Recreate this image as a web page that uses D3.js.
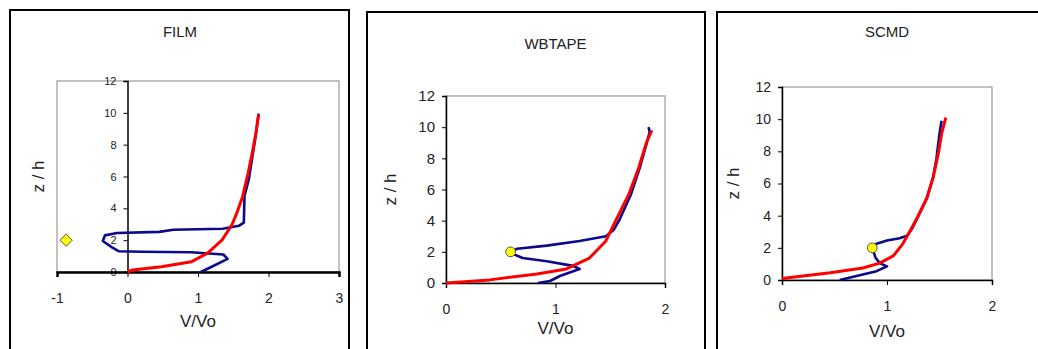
<!DOCTYPE html>
<html>
<head>
<meta charset="utf-8">
<script src="https://cdn.jsdelivr.net/npm/d3@7"></script>
<style>
  body { margin: 0; background: #fff; }
  svg { display: block; font-family: 'Liberation Sans', Arial, sans-serif; }
  .axis text { fill: #222; }
</style>
</head>
<body>
<div id="plot"></div>
<script>
// velocity profiles, [V/Vo, z/h]
var filmMeasured = [[1.04,0],[1.18,0.3],[1.42,0.82],[1.36,1.1],[0.9,1.24],[0.2,1.27],[-0.12,1.3],[-0.22,1.55],[-0.35,1.95],[-0.32,2.3],[-0.15,2.45],[0.45,2.52],[0.65,2.65],[1.35,2.72],[1.58,2.9],[1.65,3.1],[1.66,4.8],[1.72,5.8],[1.77,7.2],[1.82,8.6],[1.86,9.95]]
var filmPredicted = [[0,0],[0.07,0.13],[0.48,0.33],[0.91,0.65],[1.14,1.2],[1.34,2.0],[1.48,2.95],[1.55,3.7],[1.63,4.7],[1.71,6.2],[1.77,7.5],[1.82,8.7],[1.86,9.9]]
var filmSource = [[-0.87,2.0]]

var wbMeasured = [[0.84,0],[0.95,0.13],[1.04,0.45],[1.22,0.9],[1.16,1.1],[0.92,1.4],[0.7,1.6],[0.61,1.87],[0.59,2.0],[0.65,2.2],[0.92,2.4],[1.22,2.7],[1.46,3.0],[1.53,3.4],[1.58,4.0],[1.69,5.7],[1.77,7.4],[1.83,8.9],[1.86,9.7],[1.85,10]]
var wbPredicted = [[0,0],[0.4,0.2],[0.83,0.58],[1.1,0.9],[1.31,1.6],[1.46,2.7],[1.55,4.0],[1.67,5.7],[1.76,7.4],[1.83,9.0],[1.88,9.8]]
var wbSource = [[0.59,2.0]]

var scmdMeasured = [[0.55,0],[0.71,0.25],[0.9,0.55],[1.0,0.85],[0.93,1.05],[0.89,1.4],[0.86,2.0],[0.9,2.25],[1.0,2.45],[1.12,2.6],[1.19,2.75],[1.24,3.2],[1.3,4.0],[1.38,5.1],[1.44,6.4],[1.47,7.5],[1.5,9.1],[1.52,9.9]]
var scmdPredicted = [[0,0.1],[0.46,0.45],[0.77,0.75],[0.93,1.05],[1.06,1.5],[1.15,2.25],[1.22,3.05],[1.29,3.9],[1.38,5.1],[1.44,6.4],[1.49,7.9],[1.52,9.1],[1.56,10.1]]
var scmdSource = [[0.86,2.0]]

var titles = ['FILM', 'WBTAPE', 'SCMD']
var xTicksFilm = [-1, 0, 1, 2, 3]
var xTicksOther = [0, 1, 2]
var yTicks = [0, 2, 4, 6, 8, 10, 12]

var panels = [
  { title: titles[0], frame: [10, 10, 339, 360], box: [57, 81, 339, 272], xDomain: [-1, 3], xTicks: xTicksFilm,
    measured: filmMeasured, predicted: filmPredicted, source: filmSource, diamond: true, yLabelSize: 11, titleY: 33, xTitleY: 323, yTitleX: 40 },
  { title: titles[1], frame: [367, 12, 338, 360], box: [446, 96, 665, 283], xDomain: [0, 2], xTicks: xTicksOther,
    measured: wbMeasured, predicted: wbPredicted, source: wbSource, diamond: false, yLabelSize: 15, titleY: 45, xTitleY: 330, yTitleX: 392 },
  { title: titles[2], frame: [717, 12, 340, 360], box: [782, 87, 992, 280], xDomain: [0, 2], xTicks: xTicksOther,
    measured: scmdMeasured, predicted: scmdPredicted, source: scmdSource, diamond: false, yLabelSize: 14, titleY: 33, xTitleY: 333, yTitleX: 735 }
]

var svg = d3.select('#plot').append('svg').attr('width', 1038).attr('height', 349)

panels.forEach(function(p) {
  var left = p.box[0], top = p.box[1], right = p.box[2], bottom = p.box[3]
  var xScale = d3.scaleLinear().domain(p.xDomain).range([left, right])
  var yScale = d3.scaleLinear().domain([0, 12]).range([bottom, top])
  var g = svg.append('g')

  // panel frame
  g.append('rect')
    .attr('x', p.frame[0]).attr('y', p.frame[1])
    .attr('width', p.frame[2]).attr('height', p.frame[3])
    .style('fill', '#fff').style('stroke', '#000').style('stroke-width', 2)

  // plot box
  g.append('rect')
    .attr('x', left).attr('y', top)
    .attr('width', right - left).attr('height', bottom - top)
    .style('fill', 'none').style('stroke', '#999').style('stroke-width', 1.2)

  var x0 = xScale(Math.max(0, p.xDomain[0]))

  var yAxis = g.append('g')
    .attr('class', 'axis')
    .attr('transform', 'translate(' + x0 + ',0)')
    .call(d3.axisLeft(yScale).tickValues(yTicks).tickSizeOuter(0).tickSize(4).tickPadding(7))
  yAxis.selectAll('text').style('font-size', p.yLabelSize + 'px')

  var xAxis = g.append('g')
    .attr('class', 'axis')
    .attr('transform', 'translate(0,' + yScale(0) + ')')
    .call(d3.axisBottom(xScale).tickValues(p.xTicks).tickFormat(function(d) { return String(d) }).tickSizeOuter(0).tickSize(5).tickPadding(16))
  xAxis.selectAll('text').style('font-size', '14px')
  xAxis.select('.domain').style('stroke-width', p.diamond ? 2.5 : 1.5)
  yAxis.select('.domain').style('stroke-width', 1.5)

  var line = d3.line()
    .x(function(d) { return xScale(d[0]) })
    .y(function(d) { return yScale(d[1]) })

  g.append('path').datum(p.measured).attr('d', line)
    .style('fill', 'none').style('stroke', '#0a0a8a').style('stroke-width', 2.6)
    .style('stroke-linejoin', 'round')

  g.append('path').datum(p.predicted).attr('d', line)
    .style('fill', 'none').style('stroke', '#ff0000').style('stroke-width', 3)
    .style('stroke-linejoin', 'round')

  g.selectAll('.src').data(p.source).enter().append('path')
    .attr('transform', function(d) { return 'translate(' + xScale(d[0]) + ',' + yScale(d[1]) + ')' })
    .attr('d', d3.symbol().type(p.diamond ? d3.symbolDiamond2 : d3.symbolCircle).size(p.diamond ? 95 : 75))
    .style('fill', '#ffff00').style('stroke', '#555').style('stroke-width', 1)

  // titles
  var cx = (left + right) / 2
  g.append('text').attr('x', p.diamond ? 180 : cx).attr('y', p.titleY)
    .attr('text-anchor', 'middle').attr('dominant-baseline', 'middle')
    .style('font-size', '15px').style('fill', '#222').text(p.title)
  g.append('text').attr('x', p.diamond ? 198 : cx).attr('y', p.xTitleY)
    .attr('text-anchor', 'middle').attr('dominant-baseline', 'middle')
    .style('font-size', '17px').style('fill', '#222').text('V/Vo')
  g.append('text')
    .attr('transform', 'translate(' + p.yTitleX + ',' + (top + bottom) / 2 + ') rotate(-90)')
    .attr('text-anchor', 'middle').attr('dominant-baseline', 'middle')
    .style('font-size', '17px').style('fill', '#222').text('z / h')
})
</script>
</body>
</html>
